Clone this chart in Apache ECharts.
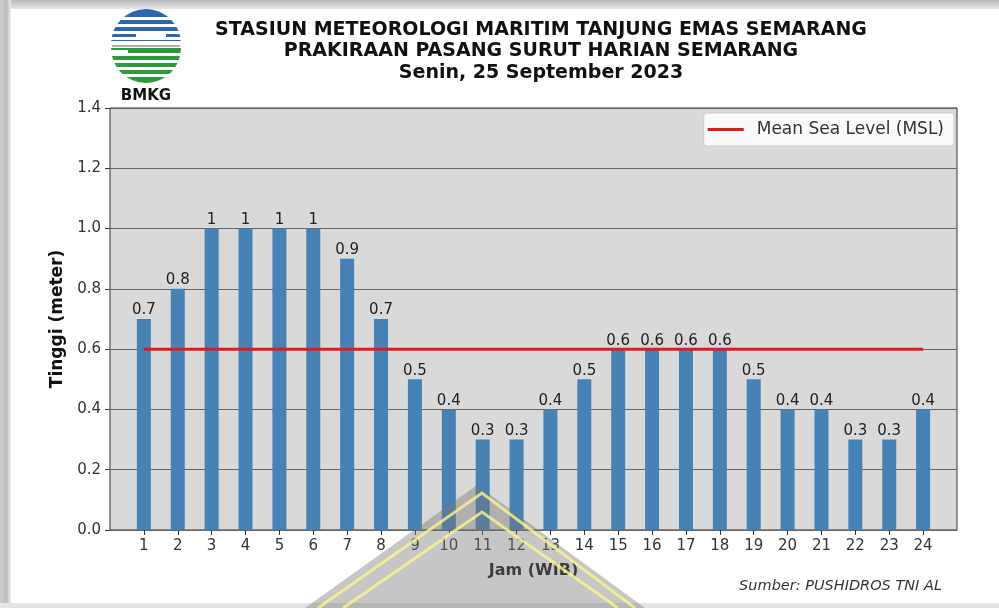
<!DOCTYPE html>
<html>
<head>
<meta charset="utf-8">
<script src="https://cdn.jsdelivr.net/npm/echarts@6/dist/echarts.min.js"></script>
<style>
html,body{margin:0;padding:0;background:#fff;}
#chart{width:999px;height:608px;}
</style>
</head>
<body>
<div id="chart"></div>
<script>
var hours = [1,2,3,4,5,6,7,8,9,10,11,12,13,14,15,16,17,18,19,20,21,22,23,24];
var heights = [0.7,0.8,1,1,1,1,0.9,0.7,0.5,0.4,0.3,0.3,0.4,0.5,0.6,0.6,0.6,0.6,0.5,0.4,0.4,0.3,0.3,0.4];
var mslValue = 0.6;
var mslHours = [1,24];
var titleLines = ['STASIUN METEOROLOGI MARITIM TANJUNG EMAS SEMARANG','PRAKIRAAN PASANG SURUT HARIAN SEMARANG','Senin, 25 September 2023'];

var chart = echarts.init(document.getElementById('chart'), null, {renderer:'canvas'});
var F = 'DejaVu Sans';

// logo (decorative)
var cx = 146, cy = 46, r = 35;
var logo = [
  {type:'sector', shape:{cx:cx, cy:cy-2, r:r, startAngle:Math.PI, endAngle:2*Math.PI}, style:{fill:'#2d66b0'}, silent:true},
  {type:'sector', shape:{cx:cx, cy:cy+2, r:r, startAngle:0, endAngle:Math.PI}, style:{fill:'#2f9a3b'}, silent:true},
  {type:'rect', shape:{x:cx-34, y:cy-1, width:68, height:2}, style:{fill:'#b0b0b0'}, silent:true}
];
[17,24,31,37,41].forEach(function(y){ logo.push({type:'rect', shape:{x:cx-r-1, y:y, width:2*r+2, height:3}, style:{fill:'#ffffff'}, silent:true}); });
[53,60,67,74].forEach(function(y){ logo.push({type:'rect', shape:{x:cx-r-1, y:y, width:2*r+2, height:3}, style:{fill:'#ffffff'}, silent:true}); });
logo.push({type:'rect', shape:{x:cx-10, y:31, width:30, height:6}, style:{fill:'#ffffff'}, silent:true});
logo.push({type:'rect', shape:{x:cx-r-1, y:cy+4, width:18, height:3}, style:{fill:'#ffffff'}, silent:true});
logo.push({type:'text', style:{text:'BMKG', x:cx, y:96, textAlign:'center', textVerticalAlign:'middle', font:'bold 15px "DejaVu Sans"', fill:'#111'}, silent:true});

var titleGraphics = titleLines.map(function(t,i){
  return {type:'text', style:{text:t, x:541, y:[30,51,73][i], textAlign:'center', textVerticalAlign:'middle', font:'bold 19px "DejaVu Sans"', fill:'#111'}, silent:true};
});

var frame = [
  {type:'rect', shape:{x:0,y:0,width:999,height:9}, style:{fill:new echarts.graphic.LinearGradient(0,0,0,1,[{offset:0,color:'#b8b8b8'},{offset:1,color:'#e6e6e6'}])}, silent:true, z:-10},
  {type:'rect', shape:{x:0,y:0,width:11,height:608}, style:{fill:new echarts.graphic.LinearGradient(0,0,1,0,[{offset:0,color:'#d0d0d0'},{offset:0.6,color:'#bdbdbd'},{offset:1,color:'#ececec'}])}, silent:true, z:-10},
  {type:'rect', shape:{x:0,y:603,width:999,height:5}, style:{fill:'#e4e4e4'}, silent:true, z:-10}
];

var watermark = [
  {type:'polygon', shape:{points:[[477,485],[305,608],[645,608]]}, style:{fill:'rgba(120,120,120,0.42)'}, silent:true, z:100},
  {type:'polyline', shape:{points:[[318,608],[482,493],[635,608]]}, style:{stroke:'rgba(250,245,140,0.8)', lineWidth:3, fill:null}, silent:true, z:101},
  {type:'polyline', shape:{points:[[343,608],[482,512],[618,608]]}, style:{stroke:'rgba(250,245,140,0.8)', lineWidth:3, fill:null}, silent:true, z:101}
];

var option = {
  animation:false,
  backgroundColor:'#ffffff',
  textStyle:{fontFamily:F},
  grid:{left:110, right:42, top:108, bottom:78, show:true, backgroundColor:'#d9d9d9', borderColor:'#333', borderWidth:1},
  legend:{
    show:true, right:45, top:113, orient:'vertical',
    backgroundColor:'rgba(255,255,255,0.85)', borderColor:'#cccccc', borderWidth:1, borderRadius:3,
    padding:[8,10,8,4], itemWidth:36, itemHeight:3, itemGap:6,
    textStyle:{fontFamily:F, fontSize:17, color:'#333', padding:[0,0,0,8]},
    data:[{name:'Mean Sea Level (MSL)', icon:'rect'}]
  },
  xAxis:{
    type:'value', min:0, max:25, interval:1,
    name:'Jam (WIB)', nameLocation:'middle', nameGap:33,
    nameTextStyle:{fontFamily:F, fontSize:16, fontWeight:'bold', color:'#111'},
    axisLine:{show:false},
    axisTick:{show:true, length:5, lineStyle:{color:'#333'}, customValues:hours},
    axisLabel:{fontFamily:F, fontSize:15, color:'#333', margin:9, customValues:hours},
    splitLine:{show:false}
  },
  yAxis:{
    type:'value', min:0, max:1.4, interval:0.2,
    name:'Tinggi (meter)', nameLocation:'middle', nameGap:41, nameRotate:90,
    nameTextStyle:{fontFamily:F, fontSize:17, fontWeight:'bold', color:'#111'},
    axisLine:{show:false},
    axisTick:{show:true, length:5, lineStyle:{color:'#333'}},
    axisLabel:{fontFamily:F, fontSize:15, color:'#333', margin:9, formatter:function(v){return v.toFixed(1);}},
    splitLine:{show:true, lineStyle:{color:'#666666', width:1}}
  },
  series:[
    {
      type:'bar', name:'Tinggi', barWidth:14,
      data:hours.map(function(h,i){return [h, heights[i]];}),
      itemStyle:{color:'#4682b4'},
      label:{show:true, position:'top', distance:1, fontFamily:F, fontSize:15, color:'#222', formatter:function(p){return String(p.value[1]);}},
      z:2
    },
    {
      type:'line', name:'Mean Sea Level (MSL)',
      data:mslHours.map(function(h){return [h, mslValue];}),
      symbol:'none', lineStyle:{color:'#e01b1b', width:3}, itemStyle:{color:'#e01b1b'}, z:3
    }
  ],
  graphic:{elements: frame.concat(logo, titleGraphics, [
    {type:'text', style:{text:'Sumber: PUSHIDROS TNI AL', x:942, y:586, textAlign:'right', textVerticalAlign:'middle', font:'italic 14.5px "DejaVu Sans"', fill:'#333'}, silent:true}
  ], watermark)}
};
chart.setOption(option);
</script>
</body>
</html>
